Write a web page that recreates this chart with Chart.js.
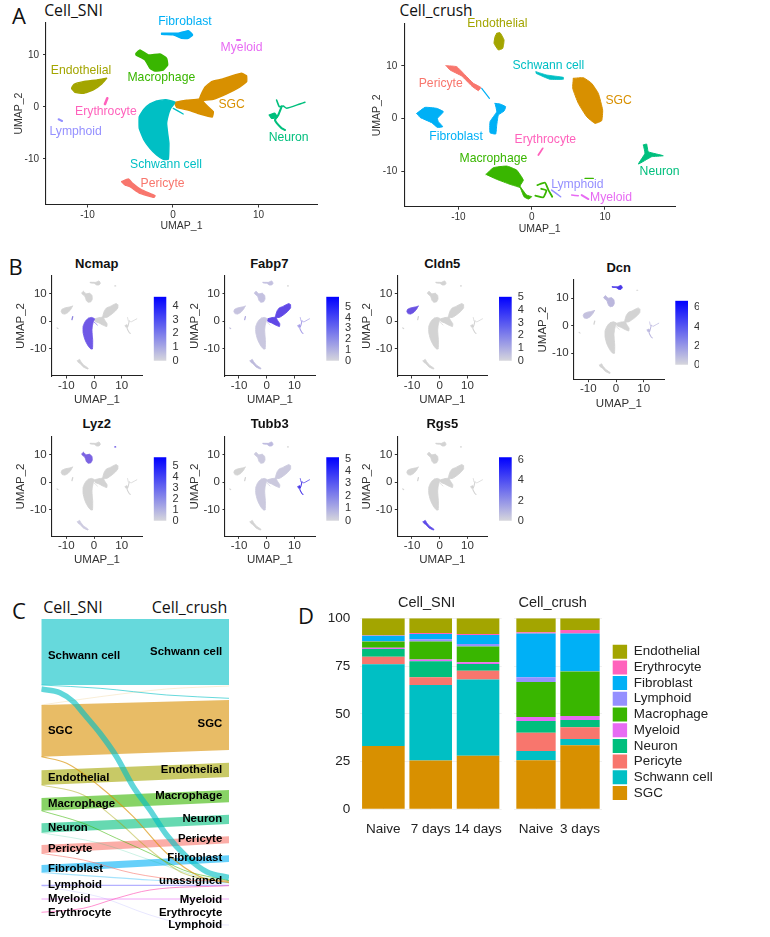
<!DOCTYPE html>
<html><head><meta charset="utf-8">
<style>
html,body{margin:0;padding:0;background:#fff;width:770px;height:937px;overflow:hidden}
canvas{position:absolute}
.t{position:absolute;white-space:nowrap;line-height:1;transform:translate(-50%,-50%);color:#111}
.h{font-family:"Open Sans",sans-serif}
.b{font-family:"Liberation Sans",sans-serif;font-weight:bold;font-size:13px}
.f{font-family:"Liberation Sans",sans-serif;font-size:14.5px;color:#222}
</style>
<script src="https://cdn.jsdelivr.net/npm/chart.js@4"></script>
</head><body>
<script>
/* ---------- UMAP outlines (UMAP_1, UMAP_2) ---------- */
const sniSchwann=[[-1.91,1.15],[-.86,1.41],[.23,.9],[-.27,-.26],[-.55,-1.54],[-.74,-3.14],[-.62,-5.06],[-.47,-6.99],[-.55,-10.06],[-1.13,-10.06],[-1.91,-9.23],[-2.69,-7.95],[-3.39,-6.35],[-3.94,-4.1],[-3.94,-1.86],[-3.39,-.45],[-2.69,.58]];
const sniSchwannTail=[[.04,-.26],[1.2,-1.35]];
const sniSGC=[[8.62,5.96],[8.03,6.47],[6.86,5.96],[5.69,5.32],[4.52,4.87],[3.74,3.78],[3.27,2.31],[3.08,1.54],[1.6,1.28],[.23,.83],[.43,-.06],[1.79,-.58],[3.16,-1.35],[4.6,-1.92],[4.72,-.9],[4.02,.19],[3.47,1.22],[4.72,1.47],[6.28,2.5],[7.64,3.65],[8.62,4.87]];
const sniFibroblast=[[-1.33,14.17],[-.35,14.17],[.62,14.17],[1.79,14.68],[2.3,13.85],[1.79,13.2],[1.01,13.2],[.04,13.85],[-1.33,13.97]];
const sniMacrophage=[[-4.33,10.32],[-3.86,10.96],[-2.88,10],[-1.52,10.19],[-.74,9.36],[-.62,8.08],[-1.13,7.1],[-2.1,6.92],[-2.69,7.44],[-3.27,9.04],[-4.33,10]];
const sniEndothelial=[[-7.76,5.51],[-8.92,5.19],[-10.5,4.87],[-11.57,4.36],[-11.85,3.59],[-11.46,2.82],[-10.49,2.63],[-9.32,3.27],[-8.34,4.42]];
const sniPericyte=[[-6,-14.36],[-5.22,-13.85],[-4.72,-14.68],[-3.66,-15.96],[-2.1,-17.05],[-2.22,-17.37],[-3.86,-16.6],[-5.03,-15.32],[-5.61,-15]];
const sniErythrocyte=[[-7.68,1.67],[-7.95,.58]];
const sniLymphoid=[[-13.37,-2.37],[-12.98,-2.69]];
const sniMyeloid=[[7.5,12.88],[7.85,12.88]];
const sniNeuronA=[[12.12,1.35],[12.44,.06],[12.9,.19],[13.29,-.26],[14.85,.58],[15.44,.9]];
const sniNeuronB=[[12.71,.06],[12.32,-1.54],[11.93,-2.5],[12.71,-4.1],[13.1,-4.42]];
const sniNeuronBlob=[[11.27,-1.54],[11.93,-1.22],[12.2,-2],[11.54,-2.18]];

const crEndothelial=[[-4.77,16.2],[-4.32,16.33],[-3.77,14.94],[-3.95,13.35],[-4.55,13.04],[-5.14,14.3],[-5,15.57]];
const crPericyte=[[-11.68,10.06],[-10.23,9.87],[-9.09,8.29],[-7.95,6.71],[-6.95,5.95],[-7.27,5.32],[-8.18,6.2],[-9.55,8.1],[-11.14,9.24]];
const crFibroA=[[-15.68,1.01],[-14.55,2.15],[-12.95,1.96],[-12.05,1.33],[-12.86,.06],[-12.73,-.57],[-12.14,-1.52],[-12.86,-1.65],[-13.64,-.76],[-15.23,.25]];
const crFibroB=[[-5,2.91],[-4.32,2.78],[-3.55,2.28],[-3.77,1.46],[-4.55,.7],[-4.77,-1.2],[-4.91,-2.91],[-5.68,-2.66],[-5.68,-.57],[-4.77,1.33]];
const crFibroLine=[[-6.82,5.76],[-5.77,3.86]];
const crSchwann=[[.59,8.92],[2.05,8.29],[4.32,7.85],[4.32,7.47],[2.5,7.47],[1.36,8.1],[.59,8.61]];
const crSGC=[[5.68,7.66],[7.05,7.78],[8.18,6.71],[9.09,4.81],[9.68,1.65],[9.55,-.38],[8.64,-.89],[7.5,.38],[6.36,2.91],[5.59,5.76]];
const crErythrocyte=[[1.5,-5.63],[.91,-6.9]];
const crNeuron=[[15.23,-5],[15.68,-4.81],[15.91,-6.27],[17.95,-7.03],[16.36,-7.22],[14.55,-8.61],[15.45,-6.58]];
const crMacrophage=[[-6.23,-10.57],[-5.23,-9.3],[-3.41,-8.99],[-2.05,-9.75],[-1.14,-11.65],[-1.59,-12.78],[-.68,-14.49],[0,-14.81],[-.45,-15.25],[-1.05,-14.81],[-1.59,-13.1],[-2.95,-12.46],[-4.77,-11.5]];
const crMacLineA=[[.77,-12.6],[1.82,-12.15],[2.27,-13.5],[2.8,-14.8]];
const crMacLineB=[[.5,-14.6],[1.6,-14.9],[2,-13.6],[1.3,-13.3]];
const crMacLineC=[[7.27,-11.33],[8.41,-11.33]];
const crLymphoid=[[2.73,-13.54],[3.95,-14.81]];
const crMyeloidA=[[5.45,-14.49],[6.36,-14.62]];
const crMyeloidB=[[6.82,-14.49],[7.73,-15.25]];

/* ---------- cluster colours ---------- */
const clusterNames=['SGC','Schwann cell','Pericyte','Neuron','Myeloid','Macrophage','Lymphoid','Fibroblast','Erythrocyte','Endothelial'];
const clusterColors=['#D89000','#00BFC4','#F8766D','#00BF7D','#E76BF3','#39B600','#9590FF','#00B0F6','#FF62BC','#A3A500'];
const colorOf=n=>clusterColors[clusterNames.indexOf(n)];

/* ---------- labels in panel A ---------- */
const sniLabelNames=['Fibroblast','Myeloid','Endothelial','Macrophage','SGC','Erythrocyte','Lymphoid','Neuron','Schwann cell','Pericyte'];
const sniLabelX=[1.4,8.03,-10.76,-1.36,6.86,-7.84,-11.38,13.53,-.82,-1.21];
const sniLabelY=[16.4,11.47,6.99,5.64,.45,-.9,-4.74,-5.83,-11.09,-14.81];
const crLabelNames=['Endothelial','Schwann cell','Pericyte','SGC','Fibroblast','Erythrocyte','Macrophage','Neuron','Lymphoid','Myeloid'];
const crLabelX=[-4.68,2.27,-12.41,11.86,-10.32,1.86,-5.23,17.45,6.23,10.82];
const crLabelY=[17.97,10,6.71,3.42,-3.48,-4.05,-7.59,-10,-12.47,-15.06];
const umapTicks=[-10,0,10];

/* ---------- panel B ---------- */
const geneNames=['Ncmap','Fabp7','Cldn5','Dcn','Lyz2','Tubb3','Rgs5'];
const geneMax=[4.68,5.95,5.05,6.7,5.8,5.1,6.3];
const geneTicks=[[0,1,2,3,4],[0,1,2,3,4,5],[0,1,2,3,4,5],[0,2,4,6],[0,1,2,3,4,5],[0,1,2,3,4,5],[0,2,4,6]];

/* ---------- panel C: band edges, top to bottom ---------- */
const bandNames=['Schwann cell','SGC','Endothelial','Macrophage','Neuron','Pericyte','Fibroblast'];
const bandLeftTop=[0,86,151.3,179,204.3,226,246];
const bandLeftBottom=[66,137.7,166,191.7,213.7,234.3,253.3];
const bandRightTop=[0,81,143.7,171,195.7,217.3,236.3];
const bandRightBottom=[66,131,158,183.3,205,224.3,243];
const flowSchwannUn=[[0,70],[9.9,73.7],[17.1,82.7],[22.4,94.3],[31.3,114.3],[40.1,137.7],[49,167.7],[57.9,191],[66.8,216],[77.4,237.7],[88.1,252.7],[100,258.7]];
const flowSchwannThin=[[0,66],[31.3,69.3],[66.8,76],[100,79.3]];
const flowSgcSchwann=[[0,86],[31.3,77.7],[66.8,70],[100,67]];
const flowSgcUn=[[0,137.7],[13.5,144.3],[31.3,167.7],[49,197.7],[66.8,234.3],[84.6,257.7],[100,263.7]];
const flowEndoUn=[[0,166],[22.4,176],[40.1,201],[57.9,231],[75.7,254.3],[100,262.7]];
const flowMacUn=[[0,191.7],[22.4,204.3],[40.1,219.3],[57.9,234.3],[75.7,251],[100,261.7]];
const flowNeuronUn=[[0,213.7],[31.3,224.3],[57.9,241],[84.6,257.7],[100,261]];
const flowPericyteUn=[[0,234.3],[22.4,241],[49,254.3],[75.7,261],[100,262]];
const flowFibroUn=[[0,253.3],[31.3,257.7],[57.9,261],[100,263.7]];
const flowErythUn=[[0,293.3],[22.4,289.3],[40.1,279.3],[57.9,271],[100,266.7]];
const flowLymphLymph=[[0,267],[31.3,278],[57.9,296],[75.7,304.3],[100,306]];
const flowMyeloid=[[0,280],[100,280]];
const flowLymphUn=[[0,266.3],[100,266.3]];
const sankeyLeftNames=['Schwann cell','SGC','Endothelial','Macrophage','Neuron','Pericyte','Fibroblast','Lymphoid','Myeloid','Erythrocyte'];
const sankeyLeftY=[36.7,112.3,158.7,185.3,209,230,249.7,266,280,293.7];
const sankeyRightNames=['Schwann cell','SGC','Endothelial','Macrophage','Neuron','Pericyte','Fibroblast','unassigned','Myeloid','Erythrocyte','Lymphoid'];
const sankeyRightY=[32.7,104.7,150.7,177,200.3,220.3,239.3,261.7,280.7,293.7,306.3];

/* ---------- panel D: percent, stacked from SGC upward ---------- */
const sniSamples=['Naive','7 days','14 days'];
const crushSamples=['Naive','3 days'];
const pctSGC=[33.2,25.5,28.1,25.7,33.5];
const pctSchwann=[42.7,39.6,39.8,4.8,3.3];
const pctPericyte=[4,4,4.7,9.6,6.1];
const pctNeuron=[4,8.4,3.5,6.1,3.9];
const pctMyeloid=[.7,.9,.9,2.1,2.1];
const pctMacrophage=[3.2,9.4,8.3,18.4,23.2];
const pctLymphoid=[.3,1.2,1.3,2.4,.2];
const pctFibroblast=[2.8,2.8,4.7,23,19.8];
const pctErythrocyte=[.2,.5,.5,.6,1.8];
const pctEndothelial=[8.9,7.7,8.2,7.3,6.1];
const pctSeries=[pctSGC,pctSchwann,pctPericyte,pctNeuron,pctMyeloid,pctMacrophage,pctLymphoid,pctFibroblast,pctErythrocyte,pctEndothelial];
const pctTicks=[0,25,50,75,100];

/* ---------- helpers ---------- */
Chart.defaults.font.family='"Liberation Sans",sans-serif';
Chart.defaults.animation=false;
Chart.defaults.responsive=false;
Chart.defaults.events=[];
Chart.defaults.plugins.legend.display=false;
Chart.defaults.plugins.tooltip.enabled=false;

const textPlugin={id:'textLabels',afterDatasetsDraw(chart,a,o){
  if(!o.items)return;const c=chart.ctx;c.save();c.font=o.font;c.textBaseline='middle';
  o.items.forEach(i=>{c.fillStyle=i.color||'#000';c.textAlign=i.align||'center';
    c.fillText(i.text,chart.scales.x.getPixelForValue(i.x),chart.scales.y.getPixelForValue(i.y));});
  c.restore();}};
Chart.register(textPlugin);

function canvasAt(l,t,w,h){const c=document.createElement('canvas');c.width=w;c.height=h;
  c.style.left=l+'px';c.style.top=t+'px';c.style.width=w+'px';c.style.height=h+'px';document.body.appendChild(c);return c;}
function text(cls,s,x,y,size,extra){const d=document.createElement('div');d.className='t '+cls;d.textContent=s;
  d.style.left=x+'px';d.style.top=y+'px';if(size)d.style.fontSize=size+'px';if(extra)Object.assign(d.style,extra);document.body.appendChild(d);}
const xy=p=>p.map(([x,y])=>({x,y}));
function blob(p,color,bw){return{data:xy(p.concat([p[0]])),showLine:true,borderColor:color,backgroundColor:color,borderWidth:bw,fill:'shape',pointRadius:0,tension:.12,borderJoinStyle:'round',borderCapStyle:'round'};}
function line(p,color,bw){return{data:xy(p),showLine:true,borderColor:color,backgroundColor:color,borderWidth:bw,fill:false,pointRadius:0,tension:.15,borderJoinStyle:'round',borderCapStyle:'round'};}

function umapChart(g){
  const left=Math.floor(g.L-g.yw),top=Math.floor(g.T-g.padT),yw=g.L-left,padT=g.T-top;
  const w=Math.ceil(g.R-left+(g.padR||8)),h=Math.ceil(g.B-top+g.xh),padR=w-(g.R-left),xh=h-(g.B-top);
  const ticks=v=>{v.ticks=umapTicks.map(value=>({value}));};
  const axis=(titleTxt,min,max,fitKey,fitVal,pad,tl)=>({type:'linear',min,max,afterBuildTicks:ticks,
    afterFit(s){s[fitKey]=fitVal;},
    grid:{display:true,drawOnChartArea:false,drawTicks:true,tickLength:tl,color:'#333',lineWidth:1},
    border:{display:true,color:'#222',width:1.1},
    ticks:{color:'#333',padding:pad,font:{size:g.tick},autoSkip:false,maxRotation:0},
    title:{display:true,text:titleTxt,color:'#333',font:{size:g.title},padding:0}});
  new Chart(canvasAt(left,top,w,h),{type:'scatter',data:{datasets:g.datasets},
    options:{layout:{padding:{top:padT,right:padR,left:0,bottom:0}},
      plugins:{textLabels:{items:g.labels||null,font:(g.labelSize||12.2)+'px "Liberation Sans"'}},
      scales:{x:axis('UMAP_1',g.xmin,g.xmax,'height',xh,g.padX,g.tl),y:axis('UMAP_2',g.ymin,g.ymax,'width',yw,g.padY,g.tl)}}});
}
function sniDatasets(tint,bw,lw){
  const c=n=>tint(n);
  return [
    line(sniSchwannTail,c('Schwann cell'),lw*.5),blob(sniSchwann,c('Schwann cell'),bw),blob(sniSGC,c('SGC'),bw),
    blob(sniFibroblast,c('Fibroblast'),bw),blob(sniMacrophage,c('Macrophage'),bw),blob(sniEndothelial,c('Endothelial'),bw),
    blob(sniPericyte,c('Pericyte'),bw),line(sniErythrocyte,c('Erythrocyte'),lw),line(sniLymphoid,c('Lymphoid'),lw*.8),
    line(sniMyeloid,c('Myeloid'),lw*.8),line(sniNeuronA,c('Neuron'),lw*.6),line(sniNeuronB,c('Neuron'),lw*.8),blob(sniNeuronBlob,c('Neuron'),bw)];
}
function zipLabels(names,xs,ys){return names.map((text,i)=>({text,x:xs[i],y:ys[i],color:colorOf(text)}));}

/* ---------- panel A ---------- */
text('h','A',19,15,22);text('h','Cell_SNI',73.5,11,15.8);text('h','Cell_crush',436,11,15.5);
umapChart({L:46,R:317,T:22.7,B:204.5,yw:32.5,xh:27.5,padT:20,padR:12,xmin:-14.85,xmax:16.85,ymin:-18.75,ymax:16.2,tick:10,title:10.5,padX:2,padY:4,tl:3,
  datasets:sniDatasets(colorOf,1.4,2.6),labels:zipLabels(sniLabelNames,sniLabelX,sniLabelY)});
const cr=[blob(crEndothelial,colorOf('Endothelial'),1),blob(crPericyte,colorOf('Pericyte'),1),blob(crFibroA,colorOf('Fibroblast'),1),blob(crFibroB,colorOf('Fibroblast'),1),line(crFibroLine,colorOf('Fibroblast'),1.2),
  blob(crSchwann,colorOf('Schwann cell'),.8),blob(crSGC,colorOf('SGC'),1),line(crErythrocyte,colorOf('Erythrocyte'),1.8),blob(crNeuron,colorOf('Neuron'),1),
  blob(crMacrophage,colorOf('Macrophage'),1),line(crMacLineA,colorOf('Macrophage'),1.8),line(crMacLineB,colorOf('Macrophage'),1.8),line(crMacLineC,colorOf('Macrophage'),1.2),
  line(crLymphoid,colorOf('Lymphoid'),1.5),line(crMyeloidA,colorOf('Myeloid'),1.5),line(crMyeloidB,colorOf('Myeloid'),2)];
umapChart({L:404.3,R:675,T:24,B:206.7,yw:32.6,xh:27.6,padT:24,padR:30,xmin:-17.38,xmax:19.55,ymin:-16.7,ymax:17.97,tick:10,title:10.5,padX:2,padY:4,tl:3,
  datasets:cr,labels:zipLabels(crLabelNames,crLabelX,crLabelY)});

/* ---------- panel B ---------- */
text('h','B',15.5,266,22);
const grey='#D3D3D3';
const tints=[
 {'Schwann cell':'#6F58E6','Erythrocyte':'#8C82DE'},
 {'SGC':'#6048E6','Schwann cell':'#C9C7DF','Macrophage':'#C4C1E0','Endothelial':'#C6C3DF','Neuron':'#A89FE8','Fibroblast':'#C4C1E0','Pericyte':'#BDBADC','Lymphoid':'#C0BDDC','Erythrocyte':'#B0AAE0'},
 {'Endothelial':'#6A52E2'},
 {'Fibroblast':'#4A38E8','Macrophage':'#BBB7DD','Endothelial':'#C4C1DE','Neuron':'#BDB9E0'},
 {'Macrophage':'#7B63E2','Myeloid':'#5843E2','Pericyte':'#CDCBE0'},
 {'Neuron':'#4A38E8','Schwann cell':'#CBC9DE','SGC':'#CBC9DE','Fibroblast':'#BDBADF','Macrophage':'#CBC9DE'},
 {'Pericyte':'#5C49E8'}];
const gridB=[
 {L:51.7,R:142.3,T:276,B:376,x0:94,y0:321.3,tx:96.7,ty:262.7,bL:153.7,bT:296.7,bB:360.7},
 {L:225,R:315,T:276,B:376,x0:266.7,y0:321.3,tx:269.3,ty:262.7,bL:326.3,bT:296.7,bB:360.7},
 {L:397.3,R:487.3,T:276,B:376,x0:439.7,y0:321.3,tx:442.3,ty:262.7,bL:499,bT:296.7,bB:360.7},
 {L:573.7,R:664,T:279.3,B:379.7,x0:616,y0:325.7,tx:618.7,ty:266.7,bL:675.3,bT:300.7,bB:364.7,clip:true},
 {L:51.7,R:142.3,T:436.7,B:536.3,x0:94,y0:482.3,tx:96.7,ty:423.3,bL:153.7,bT:457.3,bB:520.7},
 {L:225,R:315,T:436.7,B:536.3,x0:266.7,y0:482.3,tx:269.7,ty:423.3,bL:326.3,bT:457.3,bB:520.7},
 {L:397.3,R:487.3,T:436.7,B:536.3,x0:439.7,y0:482.3,tx:442.3,ty:423.3,bL:499,bT:457.3,bB:520.7}];
geneNames.forEach((gene,i)=>{
  const g=gridB[i],sx=2.77,sy=2.75;
  text('b',gene,g.tx,g.ty);
  umapChart({L:g.L,R:g.R,T:g.T,B:g.B,yw:36.9,xh:30.4,padT:12,padR:6,
    xmin:(g.L-g.x0)/sx,xmax:(g.R-g.x0)/sx,ymin:(g.y0-g.B)/sy,ymax:(g.y0-g.T)/sy,tick:11.5,title:11.5,padX:0,padY:2.5,tl:2.5,
    datasets:sniDatasets(n=>tints[i][n]||grey,.9,1.3)});
  const barW=12.7,left=Math.floor(g.bL),padL=g.bL-left,top=Math.floor(g.bT-14),padT=g.bT-top;
  const W=g.clip?699-left:Math.ceil(padL+barW+22),H=Math.ceil(g.bB-top+14),padB=H-(g.bB-top),yw=W-padL-barW;
  new Chart(canvasAt(left,top,W,H),{type:'bar',
    data:{labels:[gene],datasets:[{data:[geneMax[i]],barPercentage:1,categoryPercentage:1,borderWidth:0,
      backgroundColor(c){const a=c.chart.chartArea;if(!a)return grey;const l=c.chart.ctx.createLinearGradient(0,a.bottom,0,a.top);l.addColorStop(0,'#D6D6DC');l.addColorStop(1,'#0000FF');return l;}}]},
    options:{layout:{padding:{top:padT,bottom:padB,left:padL,right:0}},
      scales:{x:{display:false},
        y:{position:'right',min:0,max:geneMax[i],afterBuildTicks(v){v.ticks=geneTicks[i].map(value=>({value}));},afterFit(s){s.width=yw;},
           grid:{display:false,drawTicks:false},border:{display:false},ticks:{padding:6,color:'#333',font:{size:11},autoSkip:false}}}}});
});

/* ---------- panel C ---------- */
text('h','C',19,610,22);text('h','Cell_SNI',73,607,16);text('h','Cell_crush',189.5,607,16);
const flow=(p,color,w)=>({data:xy(p),showLine:true,borderColor:color,borderWidth:w,fill:false,pointRadius:0,cubicInterpolationMode:'monotone'});
const flows=[
  flow(flowSchwannUn,'rgba(0,191,196,.62)',5.6),
  flow(flowSgcUn,'rgba(216,144,0,.65)',1.2),
  flow(flowEndoUn,'rgba(163,165,0,.45)',1.1),
  flow(flowMacUn,'rgba(57,182,0,.55)',1),
  flow(flowNeuronUn,'rgba(0,191,125,.2)',1),
  flow(flowPericyteUn,'rgba(248,118,109,.6)',1),
  flow(flowFibroUn,'rgba(0,176,246,.35)',1.2),
  flow(flowErythUn,'rgba(255,98,188,.7)',1),
  flow(flowLymphLymph,'rgba(149,144,255,.22)',1),
  flow(flowMyeloid,'rgba(231,107,243,.6)',1),
  flow(flowLymphUn,'rgba(149,144,255,.7)',1.3),
  flow(flowSchwannThin,'rgba(0,191,196,.6)',1),
  flow(flowSgcSchwann,'rgba(216,144,0,.2)',.8)];
const bands=bandNames.map((n,i)=>{const c=colorOf(n);
  return {data:xy([[0,bandLeftTop[i]],[100,bandRightTop[i]],[100,bandRightBottom[i]],[0,bandLeftBottom[i]],[0,bandLeftTop[i]]]),
    showLine:true,borderWidth:0,borderColor:'transparent',backgroundColor:c+'99',fill:'shape',pointRadius:0};});
const sankeyLabels=[
  ...sankeyLeftNames.map((t,i)=>({text:t,x:3.55,y:sankeyLeftY[i],align:'left',color:'#000'})),
  ...sankeyRightNames.map((t,i)=>({text:t,x:96.4,y:sankeyRightY[i],align:'right',color:'#000'}))];
new Chart(canvasAt(41,619,188,312),{type:'scatter',data:{datasets:[...flows,...bands]},
  options:{layout:{padding:{left:.3}},plugins:{textLabels:{items:sankeyLabels,font:'bold 11.4px "Liberation Sans"'}},
    scales:{x:{type:'linear',min:0,max:100,display:false},y:{type:'linear',min:0,max:312,reverse:true,display:false}}}});

/* ---------- panel D ---------- */
text('h','D',306,615,22);text('f','Cell_SNI',426.7,602);text('f','Cell_crush',552.7,602);
function stacked(L,R,labels,from,bar,showY){
  const T=618.3,B=809.3,left=Math.floor(L-40),top=Math.floor(T-20),yw=L-left,padT=T-top;
  const W=Math.ceil(R-left+30),H=Math.ceil(B-top+30),padR=W-(R-left),xh=H-(B-top);
  new Chart(canvasAt(left,top,W,H),{type:'bar',
    data:{labels,datasets:pctSeries.map((s,i)=>({label:clusterNames[i],data:s.slice(from,from+labels.length),backgroundColor:clusterColors[i],barPercentage:bar,categoryPercentage:1,borderWidth:0}))},
    options:{layout:{padding:{top:padT,right:padR,left:0,bottom:0}},
      scales:{
        x:{stacked:true,afterFit(s){s.height=xh;},grid:{offset:false,color:'#F0F0F0',drawTicks:false},border:{display:false},
           ticks:{padding:12,color:'#222',font:{size:13.5},autoSkip:false,maxRotation:0}},
        y:{stacked:true,min:0,max:100,afterBuildTicks(v){v.ticks=pctTicks.map(value=>({value}));},afterFit(s){s.width=yw;},
           grid:{color:'#F0F0F0',drawTicks:false},border:{display:false},
           ticks:{display:showY,padding:9.5,color:'#222',font:{size:13.5}}}}}});
}
stacked(359.7,501.7,sniSamples,0,.9,true);
stacked(514,602,crushSamples,3,.894,false);
new Chart(canvasAt(611,643,320,170),{type:'bar',
  data:{labels:[],datasets:clusterNames.map((n,i)=>({label:n,data:[],backgroundColor:clusterColors[i]}))},
  options:{scales:{x:{display:false},y:{display:false}},
    plugins:{legend:{display:true,position:'left',align:'start',reverse:true,
      labels:{boxWidth:14.4,boxHeight:14,padding:1.7,color:'#222',font:{size:13.4,lineHeight:1}}}}}});
</script>
</body></html>
